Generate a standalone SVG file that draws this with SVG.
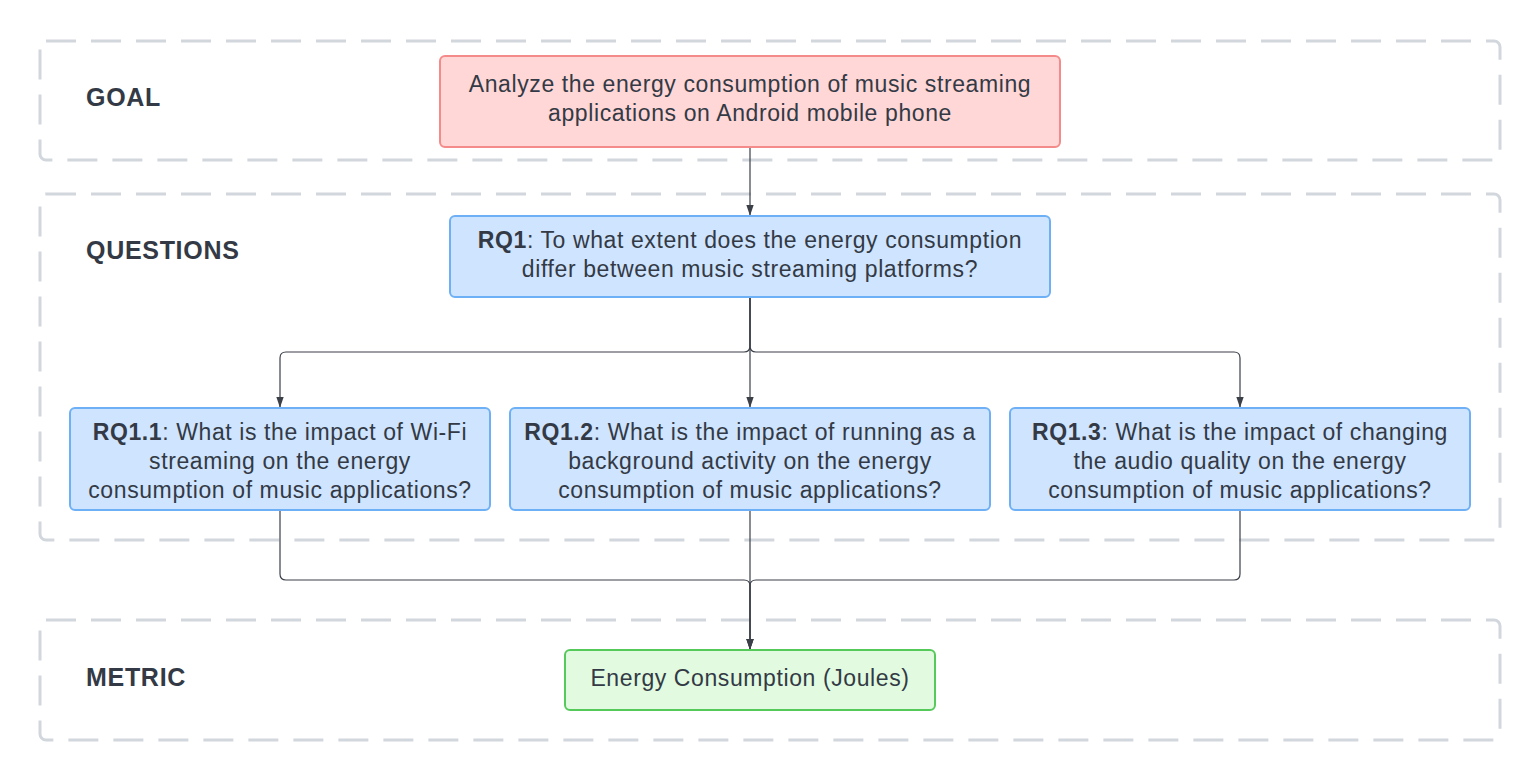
<svg xmlns="http://www.w3.org/2000/svg" width="1540" height="780" viewBox="0 0 1540 780">
<style>
.frame{fill:none;stroke:#d2d6dd;stroke-width:3;stroke-dasharray:30 15}
.lbl{font-family:"Liberation Sans",Arial,sans-serif;font-size:25px;font-weight:bold;fill:#333a45;letter-spacing:0.7px}
.t{font-family:"Liberation Sans",Arial,sans-serif;font-size:23px;fill:#333a45;text-anchor:middle;letter-spacing:0.6px}
.b{font-weight:bold}
.goal{fill:#ffd7d7;stroke:#f48a8a;stroke-width:2}
.q{fill:#cfe4ff;stroke:#6eb0f5;stroke-width:2}
.m{fill:#e2fae0;stroke:#55c95a;stroke-width:2}
.c{fill:none;stroke:#3a3f48;stroke-width:1.2}
</style>
<defs>
<marker id="ah" markerWidth="11" markerHeight="16" refX="15" refY="5.5" orient="auto" markerUnits="userSpaceOnUse" viewBox="0 0 16 11">
<path d="M0,0 L16,5.5 L0,11 Z" fill="#3a3f48"/>
</marker>
</defs>
<g id="frames">
<rect class="frame" x="40" y="41" width="1460" height="119" rx="6"/>
<rect class="frame" x="40" y="194" width="1460" height="346" rx="6"/>
<rect class="frame" x="40" y="620" width="1460" height="120" rx="6"/>
<text class="lbl" x="86" y="106">GOAL</text>
<text class="lbl" x="86" y="259">QUESTIONS</text>
<text class="lbl" x="86" y="686">METRIC</text>
</g>
<g id="connectors">
<path class="c" d="M750,147 V215" marker-end="url(#ah)"/>
<path class="c" d="M750,297 V346 Q750,352 744,352 H286 Q280,352 280,358 V407" marker-end="url(#ah)"/>
<path class="c" d="M750,297 V407" marker-end="url(#ah)"/>
<path class="c" d="M750,297 V346 Q750,352 756,352 H1234 Q1240,352 1240,358 V407" marker-end="url(#ah)"/>
<path class="c" d="M280,510 V574 Q280,580 286,580 H744 Q750,580 750,586 V649" marker-end="url(#ah)"/>
<path class="c" d="M750,510 V649" marker-end="url(#ah)"/>
<path class="c" d="M1240,510 V574 Q1240,580 1234,580 H756 Q750,580 750,586 V649" marker-end="url(#ah)"/>
</g>
<g id="goal">
<rect class="goal" x="440" y="56" width="620" height="91" rx="5"/>
<text class="t" x="750" y="92">Analyze the energy consumption of music streaming</text>
<text class="t" x="750" y="121">applications on Android mobile phone</text>
</g>
<g id="rq1">
<rect class="q" x="450" y="216" width="600" height="81" rx="5"/>
<text class="t" x="750" y="248"><tspan class="b">RQ1</tspan>: To what extent does the energy consumption</text>
<text class="t" x="750" y="277">differ between music streaming platforms?</text>
</g>
<g id="rq11">
<rect class="q" x="70" y="408" width="420" height="102" rx="5"/>
<text class="t" x="280" y="440"><tspan class="b">RQ1.1</tspan>: What is the impact of Wi-Fi</text>
<text class="t" x="280" y="469">streaming on the energy</text>
<text class="t" x="280" y="498">consumption of music applications?</text>
</g>
<g id="rq12">
<rect class="q" x="510" y="408" width="480" height="102" rx="5"/>
<text class="t" x="750" y="440"><tspan class="b">RQ1.2</tspan>: What is the impact of running as a</text>
<text class="t" x="750" y="469">background activity on the energy</text>
<text class="t" x="750" y="498">consumption of music applications?</text>
</g>
<g id="rq13">
<rect class="q" x="1010" y="408" width="460" height="102" rx="5"/>
<text class="t" x="1240" y="440"><tspan class="b">RQ1.3</tspan>: What is the impact of changing</text>
<text class="t" x="1240" y="469">the audio quality on the energy</text>
<text class="t" x="1240" y="498">consumption of music applications?</text>
</g>
<g id="metric">
<rect class="m" x="565" y="650" width="370" height="60" rx="5"/>
<text class="t" x="750" y="686">Energy Consumption (Joules)</text>
</g>
</svg>
